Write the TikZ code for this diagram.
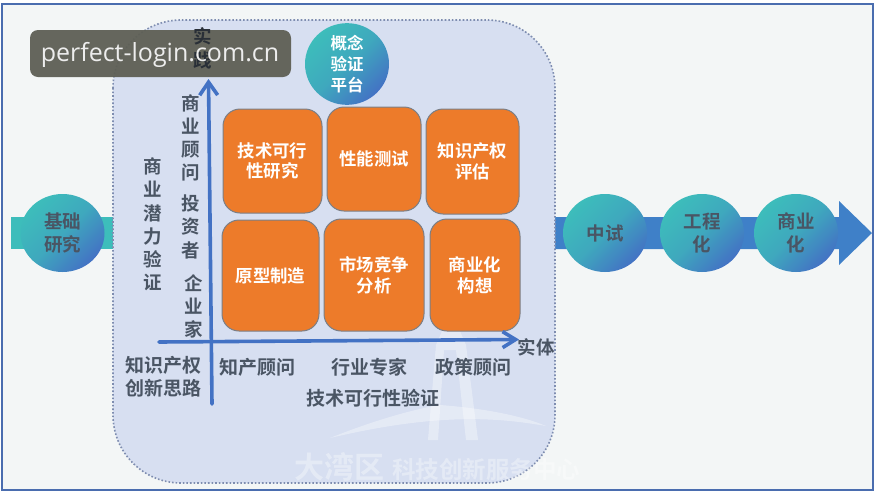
\documentclass[tikz,border=0pt]{standalone}
\usepackage{fontspec}
\setmainfont{Noto Sans CJK SC}[BoldFont={* Bold}]
\newfontfamily\latinfont{Open Sans}
\usetikzlibrary{arrows.meta,shapes.geometric}
\definecolor{framecol}{HTML}{4A6DAF}
\definecolor{pagecol}{HTML}{F3F6F6}
\definecolor{panelcol}{HTML}{D7DFF1}
\definecolor{dotcol}{HTML}{7E8DB0}
\definecolor{tealcol}{HTML}{3DBDBB}
\definecolor{bluecol}{HTML}{4372C4}
\definecolor{barcol}{HTML}{3F80C8}
\definecolor{orangecol}{HTML}{ED7B2A}
\definecolor{boxedge}{HTML}{7A7F87}
\definecolor{inkcol}{HTML}{4A5564}
\definecolor{badgecol}{HTML}{5E5F55}
\tikzset{
  x=1pt,y=-1pt,
  disc/.style={ellipse,minimum width=84pt,minimum height=78pt,inner sep=0pt,
    left color=tealcol,right color=bluecol,middle color=tealcol!72!bluecol,shading angle=45,
    align=center,text=inkcol,font=\fontsize{18.5}{23.5}\selectfont\bfseries},
  whitedisc/.style={disc,text=white,font=\fontsize{16.5}{21}\selectfont\bfseries},
  cell/.style={draw=boxedge,line width=1pt,fill=orangecol,rounded corners=17pt,inner sep=0pt,
    align=center,text=white,font=\fontsize{17.4}{20.8}\selectfont\bfseries},
  label/.style={inner sep=0pt,align=center,text=inkcol,font=\fontsize{19}{23}\selectfont\bfseries},
  axisline/.style={draw=bluecol,line width=3.6pt,line cap=round},
}
\newcommand{\cellbox}[6]{\node[cell,minimum width=#4-#2,minimum height=#5-#3] (#1) at ({(#2+#4)/2},{(#3+#5)/2}) {#6};}
\begin{document}
\begin{tikzpicture}
\useasboundingbox (0,0) rectangle (875,493);
\fill[white] (0,0) rectangle (875,493);
\draw[framecol,line width=2pt,fill=pagecol] (1.5,3.5) rectangle (873,490);
% arrows behind the discs
\fill[tealcol] (10.5,217) rectangle (113,249);
\fill[barcol] (555,217) -- (839,217) -- (839,201) -- (872,233) -- (839,265) -- (839,249) -- (555,249) -- cycle;
% panel
\draw[dotcol,line width=1.6pt,dotted,fill=panelcol,rounded corners=68pt] (113,20) rectangle (555,483);
% watermark
\begin{scope}[white,opacity=.35]
  \fill (330,438) .. controls (380,418) and (420,408) .. (440,405) .. controls (480,408) and (520,415) .. (546,426) .. controls (500,418) and (440,412) .. (330,438) -- cycle;
  \fill (428,440) -- (436,345) -- (446,322) -- (456,322) -- (466,345) -- (478,440) -- (466,440) -- (456,350) -- (444,350) -- (438,440) -- cycle;
  \node[inner sep=0pt,anchor=west,font=\fontsize{30}{30}\selectfont\bfseries] (wm1) at (294,467) {大湾区};
  \node[inner sep=0pt,anchor=west,font=\fontsize{23.5}{24}\selectfont\bfseries] (wm2) at (392,470) {科技创新服务中心};
\end{scope}
% discs
\node[disc] (basic) at (62.5,233) {基础\\研究};
\node[disc] (pilot) at (605,233) {中试};
\node[disc] (eng) at (702,233) {工程\\化};
\node[disc] (comm) at (796,233) {商业\\化};
\node[whitedisc] (poc) at (347,64) {概念\\验证\\平台};
% cells
\cellbox{c1}{223}{109}{322}{213}{技术可行\\性研究}
\cellbox{c2}{327}{107}{421}{211}{性能测试}
\cellbox{c3}{426}{109}{519}{214}{知识产权\\评估}
\cellbox{c4}{222}{220}{319}{331}{原型制造}
\cellbox{c5}{324}{219}{424}{331}{市场竞争\\分析}
\cellbox{c6}{430}{219}{520}{331}{商业化\\构想}
% axes
\coordinate (ybot) at (212,404);
\coordinate (ytop) at (208.5,79);
\coordinate (xleft) at (159,342);
\coordinate (xright) at (519,339.5);
\draw[axisline,-{Straight Barb[length=13pt,width=18pt,line width=3.6pt]}] (ybot) -- (ytop);
\draw[axisline,-{Straight Barb[length=13pt,width=16pt,line width=3.6pt]}] (xleft) -- (xright);
% labels
\node[label,font=\fontsize{18.5}{23.2}\selectfont\bfseries] (potential) at (153,224.5) {商\\业\\潜\\力\\验\\证};
\node[label,font=\fontsize{18.5}{23}\selectfont\bfseries] (adviser) at (190.5,137.5) {商\\业\\顾\\问};
\node[label,font=\fontsize{18.5}{23.5}\selectfont\bfseries] (investor) at (191,226.5) {投\\资\\者};
\node[label,font=\fontsize{18.5}{23}\selectfont\bfseries] (founder) at (194,306) {企\\业\\家};
\node[label] (ip) at (163,376.5) {知识产权\\创新思路};
\node[label] (a1) at (257,367) {知产顾问};
\node[label] (a2) at (369,367) {行业专家};
\node[label] (a3) at (473,367) {政策顾问};
\node[label] (tech) at (373,398) {技术可行性验证};
\node[label,font=\fontsize{18.5}{23}\selectfont\bfseries] (entity) at (536,347) {实体};
% badge
\fill[badgecol,opacity=.95,rounded corners=8pt] (30,30) rectangle (291,77);
\node[label,text=inkcol!55!black,font=\fontsize{18.5}{24}\selectfont\bfseries] (practice) at (203,48) {实\\践};
\node[inner sep=0pt,text=white!93!black,font=\latinfont\fontsize{25}{26}\selectfont] (badge) at (160,55) {perfect-login.com.cn};
\end{tikzpicture}
\end{document}
